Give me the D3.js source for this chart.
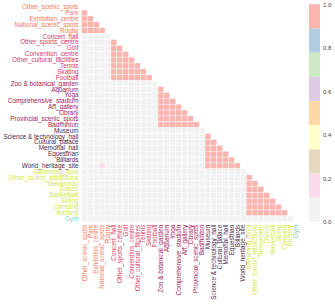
<!DOCTYPE html>
<html>
<head>
<meta charset="utf-8">
<script src="https://cdn.jsdelivr.net/npm/d3@7"></script>
<style>
  body { margin: 0; background: #fff; }
  text { font-family: "Liberation Sans", Arial, sans-serif; }
</style>
</head>
<body>
<div id="chart"></div>
<script>
// 类别（行列相同顺序）
const labels = [
  "Other_scenic_spots", "Park", "Exhibition_centre", "National_scenic_spots", "Rugby",
  "Concert_hall", "Other_sports_centre", "Golf", "Convention_centre", "Other_cultural_facilities",
  "Tennis", "Skating", "Football",
  "Zoo & botanical_garden", "Aquarium", "Yoga", "Comprehensive_stadium", "Art_gallery",
  "Library", "Provincial_scenic_spots", "Badminton",
  "Museum", "Science & technology_hall", "Cultural_palace", "Memorial_hall", "Equestrian",
  "Billiards", "World_heritage_site",
  "Swimming_pool", "Other_tourist_attractions", "Taekwondo", "Dance", "Basketball",
  "Skiing", "Climbing", "Archery",
  "Gym"
];

// 每个标签所属的分组（决定标签颜色）
const groups = [
  0, 0, 0, 0, 0,
  1, 1, 1, 1, 1, 1, 1, 1,
  2, 2, 2, 2, 2, 2, 2, 2,
  3, 3, 3, 3, 3, 3, 3,
  4, 4, 4, 4, 4, 4, 4, 4,
  5
];
const groupColors = ["#f7785c", "#d73a5e", "#a1205a", "#4e1f4a", "#d3e83e", "#86cfc2"];

// 下三角矩阵（不含对角线），第 i 行有 i 个值
const values = [
  [],
  [1],
  [1,1],
  [1,1,1],
  [1,1,1,1],
  [0,0,0,0,0],
  [0,0,0,0,0, 1],
  [0,0,0,0,0, 1,1],
  [0,0,0,0,0, 1,1,1],
  [0,0,0,0,0, 1,1,1,1],
  [0,0,0,0,0, 1,1,1,1,1],
  [0,0,0,0,0, 1,1,1,1,1,1],
  [0,0,0,0,0, 1,1,1,1,1,1,1],
  [0,0,0,0,0, 0,0,0,0,0, 0,0,0],
  [0,0,0,0,0, 0,0,0,0,0, 0,0,0, 1],
  [0,0,0,0,0, 0,0,0,0,0, 0,0,0, 1,1],
  [0,0,0,0,0, 0,0,0,0,0, 0,0,0, 1,1,1],
  [0,0,0,0,0, 0,0,0,0,0, 0,0,0, 1,1,1,1],
  [0,0,0,0,0, 0,0,0,0,0, 0,0,0, 1,1,1,1,1],
  [0,0,0,0,0, 0,0,0,0,0, 0,0,0, 1,1,1,1,1,1],
  [0,0,0,0,0, 0,0,0,0,0, 0,0,0, 1,1,1,1,1,1,1],
  [0,0,0,0,0, 0,0,0,0,0, 0,0,0,0,0, 0,0,0,0,0, 0],
  [0,0,0,0,0, 0,0,0,0,0, 0,0,0,0,0, 0,0,0,0,0, 0, 1],
  [0,0,0,0,0, 0,0,0,0,0, 0,0,0,0,0, 0,0,0,0,0, 0, 1,1],
  [0,0,0,0,0, 0,0,0,0,0, 0,0,0,0,0, 0,0,0,0,0, 0, 1,1,1],
  [0,0,0,0,0, 0,0,0,0,0, 0,0,0,0,0, 0,0,0,0,0, 0, 1,1,1,1],
  [0,0,0,0,0, 0,0,0,0,0, 0,0,0,0,0, 0,0,0,0,0, 0, 1,1,1,1,1],
  [0,0,0,0.15,0, 0,0,0,0,0, 0,0,0,0,0, 0,0,0,0,0, 0, 1,1,1,1,1,1],
  [0,0,0,0,0, 0,0,0,0,0, 0,0,0,0,0, 0,0,0,0,0, 0,0,0,0,0, 0,0,0],
  [0,0,0,0,0, 0,0,0,0,0, 0,0,0,0,0, 0,0,0,0,0, 0,0,0,0,0, 0,0,0, 1],
  [0,0,0,0,0, 0,0,0,0,0, 0,0,0,0,0, 0,0,0,0,0, 0,0,0,0,0, 0,0,0, 1,1],
  [0,0,0,0,0, 0,0,0,0,0, 0,0,0,0,0, 0,0,0,0,0, 0,0,0,0,0, 0,0,0, 1,1,1],
  [0,0,0,0,0, 0,0,0,0,0, 0,0,0,0,0, 0,0,0,0,0, 0,0,0,0,0, 0,0,0, 1,1,1,1],
  [0,0,0,0,0, 0,0,0,0,0, 0,0,0,0,0, 0,0,0,0,0, 0,0,0,0,0, 0,0,0, 1,1,1,1,1],
  [0,0,0,0,0, 0,0,0,0,0, 0,0,0,0,0, 0,0,0,0,0, 0,0,0,0,0, 0,0,0, 1,1,1,1,1,1],
  [0,0,0,0,0, 0,0,0,0,0, 0,0,0,0,0, 0,0,0,0,0, 0,0,0,0,0, 0,0,0, 1,1,1,1,1,1,1],
  [0,0,0,0,0, 0,0,0,0,0, 0,0,0,0,0, 0,0,0,0,0, 0,0,0,0,0, 0,0,0,0,0, 0,0,0,0,0, 0]
];

// 色条刻度
const colorbarTicks = [0, 0.2, 0.4, 0.6, 0.8, 1.0];

const width = 335, height = 304;
const cell = 5.88;
const gx = 81.5, gy = 4.2;
const side = cell * labels.length;

const svg = d3.select("#chart").append("svg")
  .attr("width", width)
  .attr("height", height);

const x = d3.scaleBand().domain(labels).range([gx, gx + side]);
const y = d3.scaleBand().domain(labels).range([gy, gy + side]);

// Pastel1 反转，9 个离散色
const color = d3.scaleQuantize().domain([0, 1]).range(d3.schemePastel1.slice().reverse());

const cells = [];
values.forEach((row, i) => {
  row.forEach((v, j) => cells.push({ r: labels[i], c: labels[j], v: v }));
});

svg.append("g").selectAll("rect")
  .data(cells)
  .enter().append("rect")
  .attr("x", d => x(d.c))
  .attr("y", d => y(d.r))
  .attr("width", x.bandwidth())
  .attr("height", y.bandwidth())
  .attr("fill", d => color(d.v))
  .attr("stroke", "#fff")
  .attr("stroke-width", 0.4);

const labelColor = name => groupColors[groups[labels.indexOf(name)]];

// 左侧标签
const yAxis = svg.append("g")
  .attr("transform", `translate(${gx},0)`)
  .call(d3.axisLeft(y).tickSize(0).tickPadding(3));
yAxis.select(".domain").remove();
yAxis.selectAll("text")
  .style("font-family", "Liberation Sans, Arial, sans-serif")
  .attr("font-size", 6.4)
  .attr("fill", d => labelColor(d));

// 底部标签（竖排）
const xAxis = svg.append("g")
  .attr("transform", `translate(0,${gy + side})`)
  .call(d3.axisBottom(x).tickSize(0).tickPadding(3));
xAxis.select(".domain").remove();
xAxis.selectAll("text")
  .style("font-family", "Liberation Sans, Arial, sans-serif")
  .attr("font-size", 6.4)
  .attr("fill", d => labelColor(d))
  .attr("text-anchor", "end")
  .attr("transform", "rotate(-90)")
  .attr("x", -3)
  .attr("y", 0)
  .attr("dy", "0.35em");

// 色条
const cbX = 309, cbW = 11;
const cbScale = d3.scaleLinear().domain([0, 1]).range([gy + side, gy]);
const bands = color.range().map((c, i) => ({ c: c, lo: i / 9, hi: (i + 1) / 9 }));
svg.append("g").selectAll("rect")
  .data(bands)
  .enter().append("rect")
  .attr("x", cbX)
  .attr("y", d => cbScale(d.hi))
  .attr("width", cbW)
  .attr("height", d => cbScale(d.lo) - cbScale(d.hi))
  .attr("fill", d => d.c);

const cbAxis = svg.append("g")
  .attr("transform", `translate(${cbX + cbW},0)`)
  .call(d3.axisRight(cbScale).tickValues(colorbarTicks).tickFormat(d3.format(".1f")).tickSize(0).tickPadding(3));
cbAxis.select(".domain").remove();
cbAxis.selectAll("text")
  .style("font-family", "Liberation Sans, Arial, sans-serif")
  .attr("font-size", 6)
  .attr("fill", "#444");
</script>
</body>
</html>
